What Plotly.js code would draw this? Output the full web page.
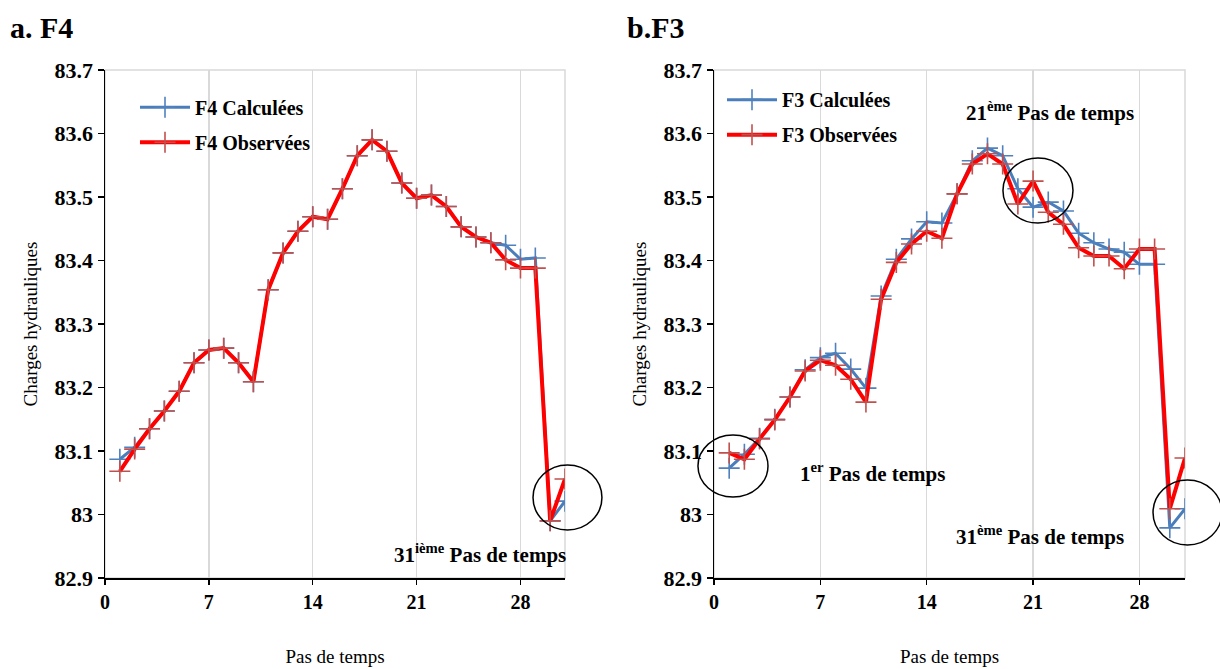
<!DOCTYPE html>
<html>
<head>
<meta charset="utf-8">
<script src="https://cdn.plot.ly/plotly-3.0.1.min.js"></script>
<style>html,body{margin:0;padding:0;background:#fff;}#chart{width:1220px;height:669px;}</style>
</head>
<body>
<div id="chart"></div>
<script>
const steps = [1,2,3,4,5,6,7,8,9,10,11,12,13,14,15,16,17,18,19,20,21,22,23,24,25,26,27,28,29,30,31];

const f4Calc = [83.087,83.106,83.135,83.163,83.194,83.239,83.259,83.262,83.239,83.209,83.354,83.412,83.446,83.469,83.465,83.513,83.565,83.590,83.572,83.522,83.498,83.503,83.485,83.453,83.437,83.428,83.424,83.402,83.404,82.990,83.021];
const f4Obs  = [83.068,83.103,83.135,83.163,83.194,83.239,83.259,83.262,83.239,83.209,83.354,83.412,83.446,83.469,83.465,83.513,83.565,83.590,83.572,83.522,83.498,83.503,83.485,83.453,83.437,83.428,83.401,83.388,83.388,82.990,83.056];

const f3Calc = [83.073,83.095,83.120,83.150,83.185,83.228,83.247,83.254,83.229,83.199,83.344,83.402,83.434,83.461,83.459,83.505,83.557,83.577,83.565,83.513,83.484,83.492,83.478,83.443,83.428,83.418,83.413,83.394,83.394,82.979,83.009];
const f3Obs  = [83.097,83.087,83.119,83.149,83.185,83.226,83.243,83.235,83.213,83.177,83.339,83.397,83.426,83.446,83.435,83.505,83.552,83.568,83.552,83.489,83.525,83.476,83.457,83.420,83.407,83.407,83.387,83.418,83.418,83.009,83.089];

const seriesNames = ['F4 Calculées','F4 Observées','F3 Calculées','F3 Observées'];
const yTicks = [82.9,83,83.1,83.2,83.3,83.4,83.5,83.6,83.7];
const yTickText = ['82.9','83','83.1','83.2','83.3','83.4','83.5','83.6','83.7'];
const xTicks = [0,7,14,21,28];

const SERIF = 'Liberation Serif';
const BLUE_LINE = '#4a7ebb', BLUE_MK = '#4f81bd';
const RED_LINE = '#ff0000', RED_MK = '#c0504d';

function tr(y, name, xa, ya, lg, lc, mc, lw, grp) {
  return {
    type: 'scatter', mode: 'lines+markers', x: steps, y: y, name: name,
    xaxis: xa, yaxis: ya, legend: lg, legendgroup: grp,
    line: {color: lc, width: lw},
    marker: {symbol: 'cross-thin', size: 15, line: {color: mc, width: 1.6}, color: mc}
  };
}

const data = [
  tr(f4Calc, seriesNames[0], 'x', 'y', 'legend', BLUE_LINE, BLUE_MK, 3, 'a'),
  tr(f4Obs, seriesNames[1], 'x', 'y', 'legend', RED_LINE, RED_MK, 4, 'b'),
  tr(f3Calc, seriesNames[2], 'x2', 'y2', 'legend2', BLUE_LINE, BLUE_MK, 3, 'c'),
  tr(f3Obs, seriesNames[3], 'x2', 'y2', 'legend2', RED_LINE, RED_MK, 4, 'd')
];

function xaxisDef(domain, anchor) {
  return {
    domain: domain, anchor: anchor, range: [0, 31], tickvals: xTicks,
    showgrid: true, gridcolor: '#d9d9d9', gridwidth: 1.5, zeroline: false,
    showline: true, linecolor: '#000', linewidth: 1.5,
    ticks: 'outside', ticklen: 5, tickcolor: '#000', tickwidth: 1.5,
    tickfont: {family: SERIF, size: 20, color: '#000', weight: 'bold'},
    title: {text: 'Pas de temps', font: {family: SERIF, size: 19, color: '#000'}, standoff: 38},
    fixedrange: true
  };
}
function yaxisDef(anchor) {
  return {
    domain: [0, 1], anchor: anchor, range: [82.9, 83.7], tickvals: yTicks, ticktext: yTickText,
    showgrid: false, zeroline: false,
    showline: true, linecolor: '#000', linewidth: 1.5,
    ticks: 'outside', ticklen: 6, tickcolor: '#000', tickwidth: 1.5,
    tickfont: {family: SERIF, size: 22, color: '#000', weight: 'bold'},
    title: {text: 'Charges hydrauliques', font: {family: SERIF, size: 19, color: '#000'}, standoff: 12},
    fixedrange: true
  };
}

const W = 1220;
const leftDom = [105 / W, 565 / W];
const rightDom = [714 / W, 1185 / W];

const legendFont = {family: SERIF, size: 20, color: '#000', weight: 'bold'};
const annFont = {family: SERIF, size: 21, color: '#000', weight: 'bold'};

const layout = {
  width: 1220, height: 669,
  margin: {l: 0, r: 0, t: 70, b: 91},
  paper_bgcolor: '#fff', plot_bgcolor: '#fff',
  font: {family: SERIF, color: '#000'},
  xaxis: xaxisDef(leftDom, 'y'),
  yaxis: yaxisDef('x'),
  xaxis2: xaxisDef(rightDom, 'y2'),
  yaxis2: yaxisDef('x2'),
  legend: {x: 135 / W, y: 0.965, xanchor: 'left', yanchor: 'top', bgcolor: 'rgba(0,0,0,0)',
           font: legendFont, traceorder: 'grouped', tracegroupgap: 6, itemwidth: 50},
  legend2: {x: 722 / W, y: 0.98, xanchor: 'left', yanchor: 'top', bgcolor: 'rgba(0,0,0,0)',
            font: legendFont, traceorder: 'grouped', tracegroupgap: 6, itemwidth: 50},
  shapes: [
    {type: 'rect', xref: 'x domain', yref: 'y domain', x0: 0, x1: 1, y0: 0, y1: 1, line: {color: '#d9d9d9', width: 1.5}, layer: 'below'},
    {type: 'rect', xref: 'x2 domain', yref: 'y2 domain', x0: 0, x1: 1, y0: 0, y1: 1, line: {color: '#d9d9d9', width: 1.5}, layer: 'below'},
    {type: 'circle', xref: 'paper', yref: 'paper', x0: 0.4369, x1: 0.4934, y0: 0.0945, y1: 0.2224, line: {color: '#000', width: 1.5}},
    {type: 'circle', xref: 'paper', yref: 'paper', x0: 0.5721, x1: 0.6295, y0: 0.1594, y1: 0.2815, line: {color: '#000', width: 1.5}},
    {type: 'circle', xref: 'paper', yref: 'paper', x0: 0.8221, x1: 0.8795, y0: 0.6988, y1: 0.8268, line: {color: '#000', width: 1.5}},
    {type: 'circle', xref: 'paper', yref: 'paper', x0: 0.9451, x1: 1.0016, y0: 0.065, y1: 0.1929, line: {color: '#000', width: 1.5}}
  ],
  annotations: [
    {xref: 'paper', yref: 'paper', x: 8 / W, y: (578 - 28) / 508, xanchor: 'left', yanchor: 'middle', showarrow: false,
     text: 'a. F4', font: {family: SERIF, size: 30, color: '#000', weight: 'bold'}},
    {xref: 'paper', yref: 'paper', x: 625 / W, y: (578 - 28) / 508, xanchor: 'left', yanchor: 'middle', showarrow: false,
     text: 'b.F3', font: {family: SERIF, size: 30, color: '#000', weight: 'bold'}},
    {xref: 'paper', yref: 'paper', x: 568 / W, y: (578 - 553) / 508, xanchor: 'right', yanchor: 'middle', showarrow: false,
     text: '31<sup>ième</sup> Pas de temps', font: annFont},
    {xref: 'paper', yref: 'paper', x: 1050 / W, y: (578 - 112) / 508, xanchor: 'center', yanchor: 'middle', showarrow: false,
     text: '21<sup>ème</sup> Pas de temps', font: annFont},
    {xref: 'paper', yref: 'paper', x: 872 / W, y: (578 - 472) / 508, xanchor: 'center', yanchor: 'middle', showarrow: false,
     text: '1<sup>er</sup> Pas de temps', font: annFont},
    {xref: 'paper', yref: 'paper', x: 1040 / W, y: (578 - 535) / 508, xanchor: 'center', yanchor: 'middle', showarrow: false,
     text: '31<sup>ème</sup> Pas de temps', font: annFont}
  ]
};

Plotly.newPlot('chart', data, layout, {displayModeBar: false, staticPlot: true});
</script>
</body>
</html>
